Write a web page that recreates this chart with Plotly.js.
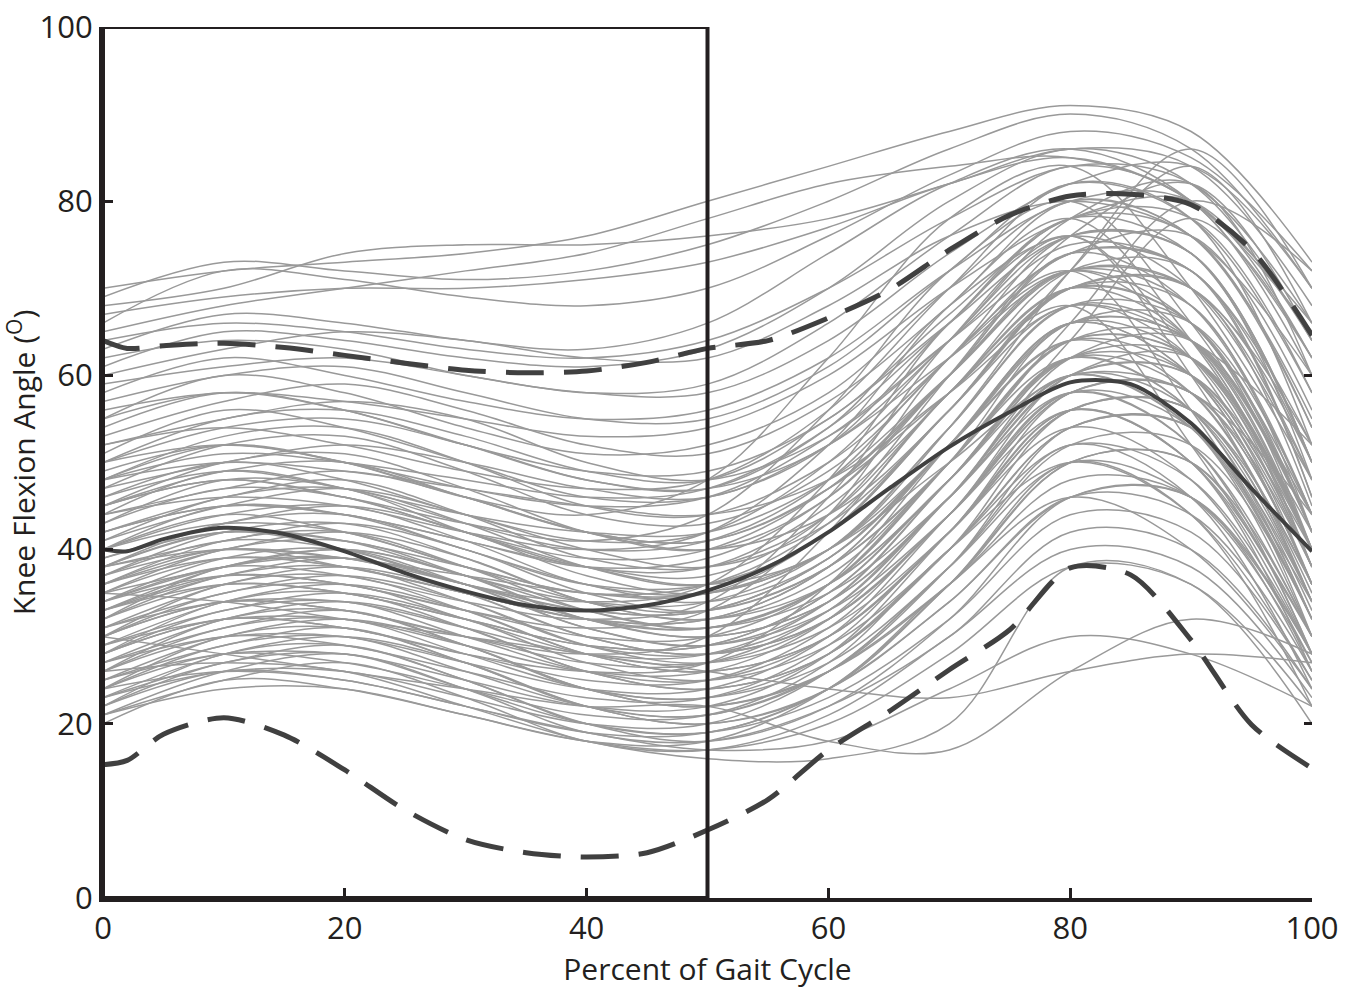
<!DOCTYPE html>
<html>
<head>
<meta charset="utf-8">
<script src="https://cdn.plot.ly/plotly-3.0.1.min.js"></script>
<style>html,body{margin:0;padding:0;background:#fff;}#chart{width:1358px;height:992px;}</style>
</head>
<body>
<div id="chart"></div>
<script>
// Percent of gait cycle sample points for the individual subject curves
const subjectX = [0, 10, 20, 30, 40, 50, 60, 70, 80, 90, 100];

// Individual subject knee flexion curves (degrees)
const subjectCurves = [
  [70,72,73,74,76,80,84,88,91,88,73],
  [69,73,72,71,72,75,80,86,90,86,70],
  [68,70,74,75,75,76,78,82,86,84,68],
  [66,72,71,69,68,70,76,83,88,85,72],
  [65,68,70,72,74,78,82,84,85,80,65],
  [64,66,65,63,62,64,70,78,84,82,66],
  [63,67,66,64,63,66,74,82,86,80,62],
  [62,64,63,60,58,58,64,74,82,84,70],
  [60,63,65,64,62,62,68,76,80,76,60],
  [58,62,60,57,55,56,62,72,80,80,62],
  [55,60,58,54,51,52,58,70,80,76,55],
  [54,58,56,52,49,49,55,67,78,78,58],
  [52,55,57,55,50,48,53,64,75,72,52],
  [51,56,54,50,46,46,52,66,78,74,50],
  [50,54,55,52,48,47,54,68,76,70,48],
  [49,52,50,47,45,46,53,64,74,76,56],
  [48,53,54,50,45,44,50,62,74,72,50],
  [47,50,52,50,47,46,52,62,72,70,52],
  [46,50,48,44,41,42,50,64,76,74,48],
  [45,50,51,47,42,40,46,60,74,72,46],
  [44,49,47,43,40,41,48,62,72,66,44],
  [44,47,49,46,42,41,47,58,70,70,50],
  [43,48,47,42,38,38,45,58,72,72,46],
  [42,46,48,44,39,38,44,58,70,66,42],
  [42,45,44,41,38,39,46,60,72,64,40],
  [41,46,47,43,38,36,42,56,70,70,45],
  [40,44,45,41,36,35,40,54,68,66,42],
  [40,43,42,38,35,35,42,56,68,62,38],
  [39,43,45,42,37,35,40,52,66,66,44],
  [38,42,41,37,34,34,40,54,68,64,40],
  [38,41,43,40,35,33,38,50,64,62,40],
  [37,41,40,36,33,33,39,52,66,60,36],
  [37,42,43,39,34,32,37,50,64,64,42],
  [36,40,42,39,34,32,36,48,62,62,40],
  [36,39,38,35,32,32,38,52,64,58,35],
  [35,40,41,37,32,31,36,50,64,62,38],
  [35,38,40,37,33,31,35,46,60,60,40],
  [34,39,40,36,31,29,34,48,62,60,36],
  [34,37,36,33,30,30,36,50,62,56,33],
  [33,38,40,37,32,30,34,46,60,62,40],
  [33,37,39,36,31,29,33,44,58,58,38],
  [32,37,38,34,29,28,33,46,60,56,34],
  [32,36,35,32,29,29,35,48,60,54,32],
  [31,36,38,35,30,28,32,44,58,58,36],
  [31,35,37,34,29,27,31,42,56,56,36],
  [30,35,36,32,28,27,32,44,58,54,32],
  [30,34,33,30,27,27,33,46,58,52,30],
  [29,34,36,33,28,26,30,42,56,56,34],
  [29,33,35,32,27,25,29,40,54,54,34],
  [28,33,34,30,26,25,30,42,56,50,30],
  [28,32,31,28,25,25,31,44,56,50,28],
  [27,32,34,31,26,24,28,40,54,54,32],
  [27,31,33,29,24,23,27,38,52,52,32],
  [26,31,32,28,24,23,28,40,52,48,28],
  [26,30,29,26,23,23,29,42,54,48,27],
  [25,30,32,29,24,22,26,36,50,50,30],
  [25,29,31,27,22,21,26,38,50,46,27],
  [24,29,30,26,22,21,26,36,48,46,28],
  [24,28,27,24,21,21,27,40,50,44,25],
  [23,28,30,27,22,20,24,34,46,46,28],
  [23,27,29,25,20,19,24,34,46,44,26],
  [22,27,28,24,20,19,23,32,44,42,25],
  [22,26,25,22,19,19,24,36,46,40,24],
  [21,26,28,24,19,18,22,30,42,40,24],
  [21,25,27,23,18,17,21,30,40,38,23],
  [20,25,24,21,18,17,20,28,38,36,22],
  [24,26,25,22,19,17,18,24,30,28,22],
  [30,28,26,24,22,22,18,17,26,32,28],
  [35,34,32,30,28,26,24,23,26,28,27],
  [26,27,26,22,18,16,16,20,38,36,20],
  [45,48,46,42,38,36,40,54,72,86,70],
  [40,44,42,38,34,33,38,50,66,80,72],
  [50,52,50,46,42,40,44,56,72,84,66],
  [36,40,38,35,32,31,36,48,64,78,62],
  [55,58,56,52,48,47,52,64,78,82,60],
  [38,42,40,36,34,36,48,66,76,62,40],
  [45,48,46,43,41,44,56,72,80,66,44],
  [33,37,36,33,31,33,44,62,72,56,34],
  [48,52,50,46,44,48,62,78,84,70,48],
  [30,34,33,30,28,30,42,58,68,52,30],
  [67,69,70,70,71,73,77,82,85,80,66],
  [61,65,64,62,61,63,70,80,86,82,64],
  [59,61,62,60,58,59,66,76,84,80,60],
  [57,60,61,58,55,55,61,72,82,78,58],
  [56,58,57,55,53,54,60,70,78,80,64],
  [53,57,59,56,52,51,57,68,80,76,54],
  [52,54,52,49,47,48,56,70,82,78,52],
  [50,55,56,53,49,48,55,66,76,74,50],
  [48,51,50,48,46,47,54,66,78,76,54],
  [47,52,53,49,44,43,49,62,76,74,50],
  [46,49,47,44,42,42,48,60,72,70,48],
  [45,49,50,46,42,41,47,60,74,68,44],
  [43,47,46,42,39,40,47,60,72,68,44],
  [41,45,47,44,40,38,43,56,70,68,42],
  [40,45,44,40,36,36,42,56,70,66,40],
  [39,42,41,38,35,36,43,58,70,64,38],
  [38,43,44,40,36,34,39,52,66,64,40],
  [37,40,39,36,33,33,39,52,64,60,38],
  [36,41,42,38,33,31,36,50,66,64,42],
  [35,39,38,35,32,32,38,52,66,60,36],
  [34,38,39,36,32,30,34,46,62,64,42],
  [33,36,35,32,29,29,35,48,62,58,34],
  [32,38,39,35,30,28,32,44,60,60,38],
  [31,34,34,31,28,28,34,48,62,56,32],
  [30,36,37,33,28,26,30,42,58,58,36],
  [29,32,32,29,26,26,32,46,60,54,30],
  [28,34,35,31,26,24,28,40,56,56,34],
  [27,30,30,27,24,24,30,44,58,52,28],
  [26,32,33,29,24,22,26,38,54,54,30],
  [25,28,28,25,22,22,28,42,56,50,26],
  [24,30,31,27,22,20,24,36,50,50,28],
  [23,26,26,23,20,20,26,38,52,46,24],
  [22,28,29,25,20,18,22,32,46,46,26],
  [21,24,24,21,18,18,24,36,50,44,22],
  [44,46,45,42,40,42,52,68,78,64,42],
  [34,38,37,34,32,34,46,64,76,60,36],
  [42,45,44,41,38,37,44,60,76,82,64],
  [28,32,31,28,26,27,36,52,66,62,40],
  [38,40,39,37,35,35,40,50,60,58,44],
  [48,50,49,47,45,44,48,58,68,64,52]
];

// Summary curves: mean and mean +/- 2 SD
const summaryX = [0,2,5,10,15,20,25,30,35,40,45,50,55,60,65,70,75,80,85,90,95,100];
const meanCurve = [40,39.8,41.2,42.5,41.8,39.8,37.3,35.2,33.6,33.0,33.6,35.3,38,42,47,51.8,55.8,59.2,59.0,54.5,47,39.8];
const upperCurve = [64,63.1,63.4,63.7,63.2,62.3,61.4,60.6,60.3,60.5,61.5,63.1,64,66.6,69.8,74.4,78.4,80.6,80.8,79.6,74.4,64.6];
const lowerCurve = [15.3,15.8,18.8,20.7,18.7,14.7,10.1,6.7,5.2,4.7,5.2,7.8,11.3,17,21.4,26.2,30.8,37.9,37.1,29.6,19.9,14.9];

const xTicks = [0,20,40,60,80,100];
const yTicks = [0,20,40,60,80,100];
const rightTicks = [20,60];

const FONT = '"Open Sans", "Noto Sans", sans-serif';
const INK = '#231f20';
const DARK = '#404040';

const traces = subjectCurves.map(vals => ({
  x: subjectX, y: vals, type: 'scatter', mode: 'lines',
  line: {color: '#999999', width: 1.5, shape: 'spline', smoothing: 1},
  hoverinfo: 'skip', showlegend: false
}));
traces.push({x: summaryX, y: upperCurve, type: 'scatter', mode: 'lines',
  line: {color: DARK, width: 5, dash: '38px,20px', shape: 'spline', smoothing: 0.8}, showlegend: false});
traces.push({x: summaryX, y: lowerCurve, type: 'scatter', mode: 'lines',
  line: {color: DARK, width: 5, dash: '38px,20px', shape: 'spline', smoothing: 0.8}, showlegend: false});
traces.push({x: summaryX, y: meanCurve, type: 'scatter', mode: 'lines',
  line: {color: DARK, width: 4, shape: 'spline', smoothing: 0.8}, showlegend: false});

// an invisible trace so the right-hand tick axis is drawn
traces.push({x: [0], y: [0], yaxis: 'y2', type: 'scatter', mode: 'markers',
  marker: {opacity: 0}, hoverinfo: 'skip', showlegend: false});

const layout = {
  width: 1358, height: 992,
  margin: {l: 103, r: 46, t: 27, b: 94},
  paper_bgcolor: '#fff', plot_bgcolor: '#fff',
  font: {family: FONT, color: INK, size: 30},
  showlegend: false,
  xaxis: {
    range: [0, 100], tickvals: xTicks, ticktext: xTicks.map(String),
    ticks: 'inside', ticklen: 10, tickwidth: 3, tickcolor: INK,
    showline: true, linewidth: 4, linecolor: INK,
    showgrid: false, zeroline: false,
    tickfont: {family: FONT, size: 31, color: INK},
    title: {text: 'Percent of Gait Cycle', font: {family: FONT, size: 30, color: INK}, standoff: 10}
  },
  yaxis: {
    range: [0, 100], tickvals: yTicks, ticktext: yTicks.map(String),
    ticks: 'inside', ticklen: 10, tickwidth: 3, tickcolor: INK,
    showline: true, linewidth: 4, linecolor: INK,
    showgrid: false, zeroline: false,
    tickfont: {family: FONT, size: 31, color: INK},
    title: {text: 'Knee Flexion Angle (<sup>O</sup>)', font: {family: FONT, size: 30, color: INK}, standoff: 14}
  },
  yaxis2: {
    range: [0, 100], overlaying: 'y', side: 'right', anchor: 'x',
    tickvals: rightTicks, ticks: 'inside', ticklen: 8, tickwidth: 3, tickcolor: INK,
    showticklabels: false, showline: false, showgrid: false, zeroline: false
  },
  shapes: [{
    type: 'rect', xref: 'x', yref: 'y', x0: 0, x1: 50, y0: 0, y1: 100,
    line: {color: INK, width: 4}, fillcolor: 'rgba(0,0,0,0)', layer: 'above'
  }]
};

Plotly.newPlot('chart', traces, layout, {displayModeBar: false, staticPlot: true});
</script>
</body>
</html>
